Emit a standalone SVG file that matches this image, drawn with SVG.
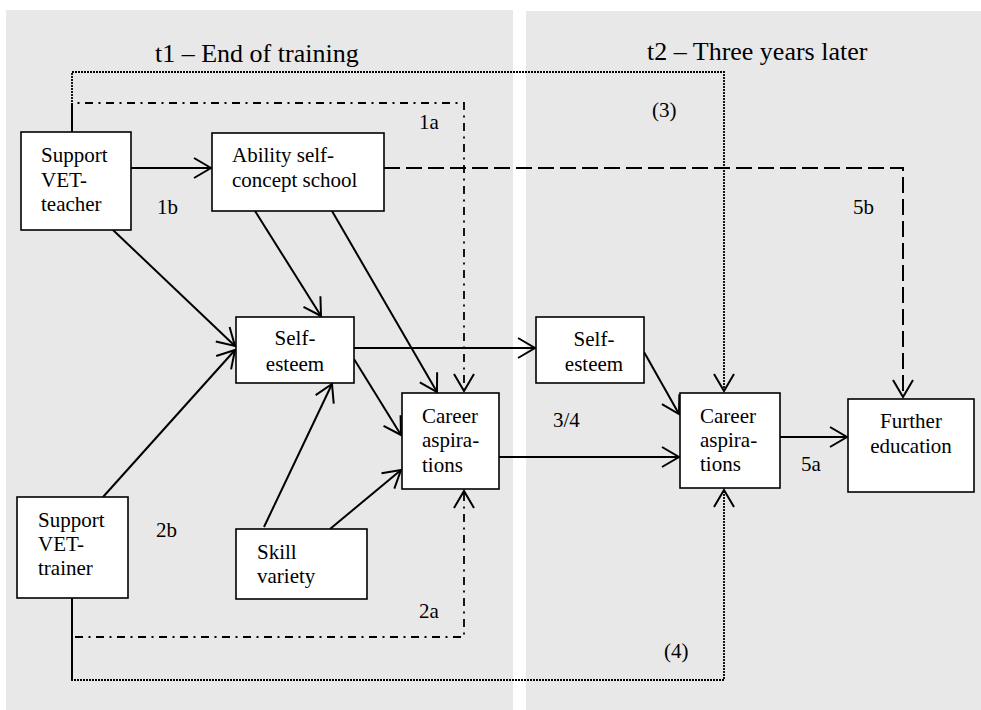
<svg xmlns="http://www.w3.org/2000/svg" width="981" height="710" viewBox="0 0 981 710">
<style>
.bg{fill:#e8e8e8;stroke:none}
.box{fill:#ffffff;stroke:#000;stroke-width:1.6}
text{font-family:"Liberation Serif","Times New Roman",serif;font-size:21px;fill:#000}
.title{font-size:26px}
.c{stroke:#000;stroke-width:2;fill:none}
.solid{marker-end:url(#arr)}
.dot{stroke-dasharray:2 1;stroke-width:1.8}
.dash{stroke-dasharray:16 6}
.dashdot{stroke-dasharray:8 5.5 2 5.5;stroke-width:1.8}
</style>
<defs>
<marker id="arr" markerUnits="userSpaceOnUse" markerWidth="24" markerHeight="24" viewBox="-20 -12 24 24" refX="0" refY="0" orient="auto">
<path d="M-17,-10 L0,0 L-17,10" fill="none" stroke="#000" stroke-width="2"/>
</marker>
</defs>
<rect class="bg" x="6" y="10" width="507" height="700"/>
<rect class="bg" x="526" y="11" width="455" height="699"/>
<text class="title" x="155" y="62">t1 – End of training</text>
<text class="title" x="647" y="60">t2 – Three years later</text>

<g id="connectors">
<path class="c dot solid" d="M72,132 V72 H724 V391"/>
<path class="c dashdot solid" d="M72,132 V103 H464 V391"/>
<path class="c dash solid" d="M384,168 H903 V397"/>
<path class="c dashdot solid" d="M72,598 V637 H464 V491"/>
<path class="c dot solid" d="M72,598 V680 H724 V490"/>
<path class="c" d="M72,598 V680"/>
<path class="c" d="M72,132 V103"/>
<path class="c solid" d="M131,168 H211"/>
<path class="c solid" d="M113,230 L235,346"/>
<path class="c solid" d="M255,211 L321,316"/>
<path class="c solid" d="M332,211 L437,392"/>
<path class="c solid" d="M103,497 L235,350"/>
<path class="c solid" d="M264,527 L332,384"/>
<path class="c solid" d="M330,529 L401,470"/>
<path class="c solid" d="M354,359 L401,435"/>
<path class="c solid" d="M354,348 H535"/>
<path class="c solid" d="M499,457 H679"/>
<path class="c solid" d="M644,352 L679,414"/>
<path class="c solid" d="M780,437 H847"/>
</g>

<g id="support-vet-teacher">
<rect class="box" x="21" y="132" width="110" height="98"/>
<text x="41" y="162">Support</text>
<text x="41" y="187">VET-</text>
<text x="41" y="211">teacher</text>
</g>
<g id="ability-self-concept">
<rect class="box" x="212" y="133" width="172" height="78"/>
<text x="232" y="162">Ability self-</text>
<text x="232" y="187">concept school</text>
</g>
<g id="self-esteem-t1">
<rect class="box" x="236" y="317" width="118" height="66"/>
<text x="295" y="345" text-anchor="middle">Self-</text>
<text x="295" y="371" text-anchor="middle">esteem</text>
</g>
<g id="career-aspirations-t1">
<rect class="box" x="402" y="393" width="97" height="96"/>
<text x="422" y="423">Career</text>
<text x="422" y="447">aspira-</text>
<text x="422" y="472">tions</text>
</g>
<g id="skill-variety">
<rect class="box" x="236" y="529" width="131" height="70"/>
<text x="257" y="559">Skill</text>
<text x="257" y="583">variety</text>
</g>
<g id="support-vet-trainer">
<rect class="box" x="17" y="497" width="111" height="101"/>
<text x="38" y="527">Support</text>
<text x="38" y="551">VET-</text>
<text x="38" y="575">trainer</text>
</g>
<g id="self-esteem-t2">
<rect class="box" x="536" y="317" width="108" height="66"/>
<text x="594" y="346" text-anchor="middle">Self-</text>
<text x="594" y="371" text-anchor="middle">esteem</text>
</g>
<g id="career-aspirations-t2">
<rect class="box" x="680" y="393" width="100" height="95"/>
<text x="700" y="423">Career</text>
<text x="700" y="447">aspira-</text>
<text x="700" y="471">tions</text>
</g>
<g id="further-education">
<rect class="box" x="848" y="399" width="126" height="93"/>
<text x="911" y="428" text-anchor="middle">Further</text>
<text x="911" y="453" text-anchor="middle">education</text>
</g>

<g id="labels">
<text x="419" y="129">1a</text>
<text x="157" y="214">1b</text>
<text x="652" y="117">(3)</text>
<text x="853" y="214">5b</text>
<text x="553" y="427">3/4</text>
<text x="801" y="471">5a</text>
<text x="156" y="537">2b</text>
<text x="419" y="618">2a</text>
<text x="664" y="658">(4)</text>
</g>
</svg>
